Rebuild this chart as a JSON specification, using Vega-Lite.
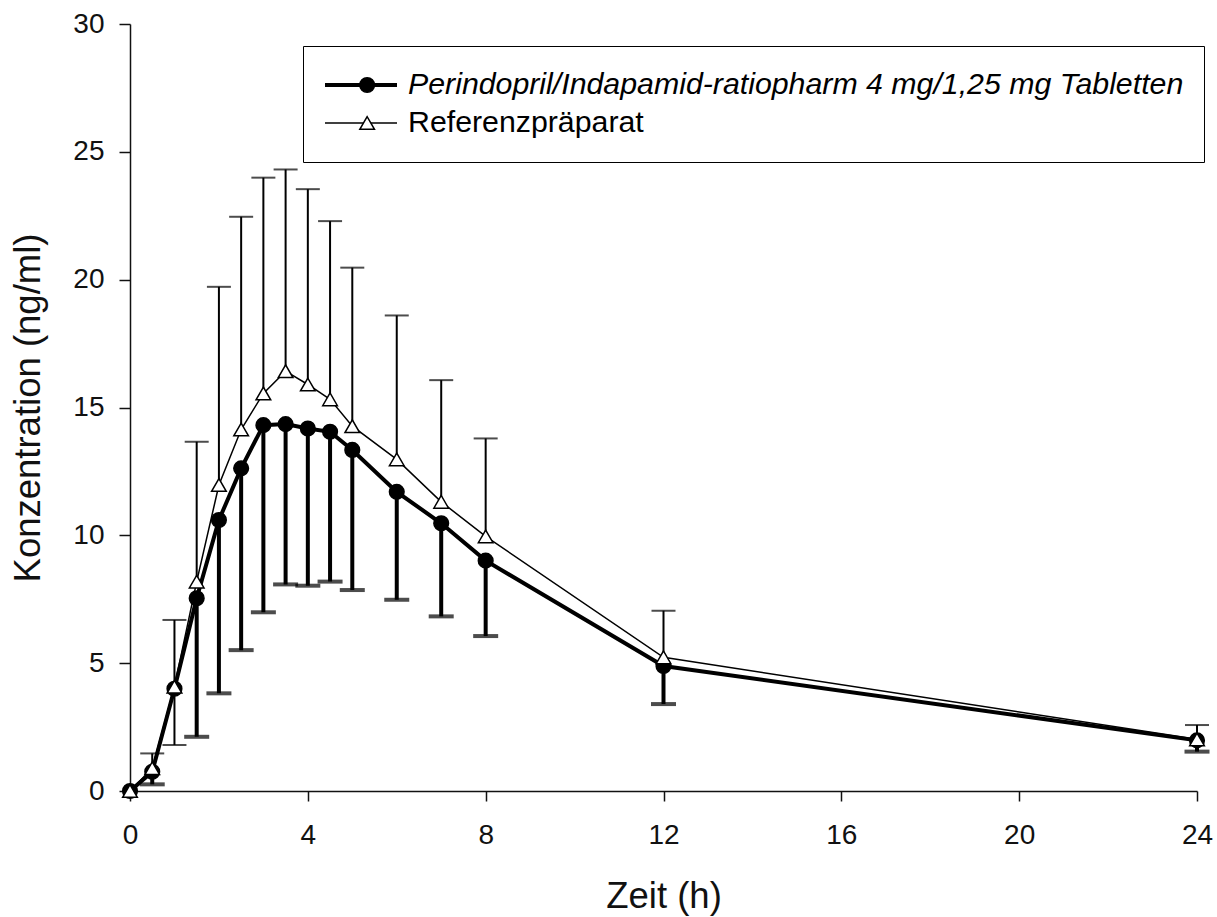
{
  "$schema": "https://vega.github.io/schema/vega-lite/v6.json",
  "autosize": {"type": "none"},
  "width": 1067,
  "height": 767,
  "padding": {"left": 130, "top": 24, "right": 20, "bottom": 126},
  "background": "white",
  "data": {
    "values": [
      {"t": 0, "series": "Perindopril/Indapamid-ratiopharm 4 mg/1,25 mg Tabletten", "c": 0, "lo": 0, "hi": 0},
      {"t": 0.5, "series": "Perindopril/Indapamid-ratiopharm 4 mg/1,25 mg Tabletten", "c": 0.75, "lo": 0.26, "hi": 0.75},
      {"t": 1, "series": "Perindopril/Indapamid-ratiopharm 4 mg/1,25 mg Tabletten", "c": 4.0, "lo": 4.0, "hi": 4.0},
      {"t": 1.5, "series": "Perindopril/Indapamid-ratiopharm 4 mg/1,25 mg Tabletten", "c": 7.54, "lo": 2.12, "hi": 7.54},
      {"t": 2, "series": "Perindopril/Indapamid-ratiopharm 4 mg/1,25 mg Tabletten", "c": 10.6, "lo": 3.82, "hi": 10.6},
      {"t": 2.5, "series": "Perindopril/Indapamid-ratiopharm 4 mg/1,25 mg Tabletten", "c": 12.62, "lo": 5.51, "hi": 12.62},
      {"t": 3, "series": "Perindopril/Indapamid-ratiopharm 4 mg/1,25 mg Tabletten", "c": 14.31, "lo": 6.99, "hi": 14.31},
      {"t": 3.5, "series": "Perindopril/Indapamid-ratiopharm 4 mg/1,25 mg Tabletten", "c": 14.35, "lo": 8.08, "hi": 14.35},
      {"t": 4, "series": "Perindopril/Indapamid-ratiopharm 4 mg/1,25 mg Tabletten", "c": 14.18, "lo": 8.03, "hi": 14.18},
      {"t": 4.5, "series": "Perindopril/Indapamid-ratiopharm 4 mg/1,25 mg Tabletten", "c": 14.05, "lo": 8.19, "hi": 14.05},
      {"t": 5, "series": "Perindopril/Indapamid-ratiopharm 4 mg/1,25 mg Tabletten", "c": 13.34, "lo": 7.86, "hi": 13.34},
      {"t": 6, "series": "Perindopril/Indapamid-ratiopharm 4 mg/1,25 mg Tabletten", "c": 11.7, "lo": 7.48, "hi": 11.7},
      {"t": 7, "series": "Perindopril/Indapamid-ratiopharm 4 mg/1,25 mg Tabletten", "c": 10.47, "lo": 6.83, "hi": 10.47},
      {"t": 8, "series": "Perindopril/Indapamid-ratiopharm 4 mg/1,25 mg Tabletten", "c": 9.01, "lo": 6.06, "hi": 9.01},
      {"t": 12, "series": "Perindopril/Indapamid-ratiopharm 4 mg/1,25 mg Tabletten", "c": 4.89, "lo": 3.4, "hi": 4.89},
      {"t": 24, "series": "Perindopril/Indapamid-ratiopharm 4 mg/1,25 mg Tabletten", "c": 1.98, "lo": 1.54, "hi": 1.98},
      {"t": 0, "series": "Referenzpräparat", "c": 0, "lo": 0, "hi": 0},
      {"t": 0.5, "series": "Referenzpräparat", "c": 0.89, "lo": 0.89, "hi": 1.47},
      {"t": 1, "series": "Referenzpräparat", "c": 4.08, "lo": 1.8, "hi": 6.69},
      {"t": 1.5, "series": "Referenzpräparat", "c": 8.19, "lo": 8.19, "hi": 13.66},
      {"t": 2, "series": "Referenzpräparat", "c": 11.97, "lo": 11.97, "hi": 19.72},
      {"t": 2.5, "series": "Referenzpräparat", "c": 14.14, "lo": 14.14, "hi": 22.46},
      {"t": 3, "series": "Referenzpräparat", "c": 15.55, "lo": 15.55, "hi": 23.99},
      {"t": 3.5, "series": "Referenzpräparat", "c": 16.42, "lo": 16.42, "hi": 24.31},
      {"t": 4, "series": "Referenzpräparat", "c": 15.9, "lo": 15.9, "hi": 23.54},
      {"t": 4.5, "series": "Referenzpräparat", "c": 15.32, "lo": 15.32, "hi": 22.29},
      {"t": 5, "series": "Referenzpräparat", "c": 14.27, "lo": 14.27, "hi": 20.47},
      {"t": 6, "series": "Referenzpräparat", "c": 12.97, "lo": 12.97, "hi": 18.6},
      {"t": 7, "series": "Referenzpräparat", "c": 11.31, "lo": 11.31, "hi": 16.07},
      {"t": 8, "series": "Referenzpräparat", "c": 9.96, "lo": 9.96, "hi": 13.79},
      {"t": 12, "series": "Referenzpräparat", "c": 5.23, "lo": 5.23, "hi": 7.05},
      {"t": 24, "series": "Referenzpräparat", "c": 2.02, "lo": 2.02, "hi": 2.58}
    ]
  },
  "encoding": {
    "x": {
      "field": "t",
      "type": "quantitative",
      "title": "Zeit (h)",
      "scale": {"domain": [0, 24], "nice": false},
      "axis": {"values": [0, 4, 8, 12, 16, 20, 24], "grid": false, "labelFlush": false, "tickSize": 10, "labelPadding": 20, "titlePadding": 29}
    }
  },
  "layer": [
    {
      "transform": [{"filter": "datum.series !== 'Referenzpräparat'"}],
      "mark": {"type": "rule", "color": "black", "strokeWidth": 4},
      "encoding": {
        "y": {"field": "lo", "type": "quantitative"},
        "y2": {"field": "hi"}
      }
    },
    {
      "transform": [{"filter": "datum.series !== 'Referenzpräparat' && datum.lo < datum.c"}],
      "mark": {"type": "tick", "orient": "horizontal", "color": "black", "size": 25, "thickness": 4},
      "encoding": {
        "y": {"field": "lo", "type": "quantitative"}
      }
    },
    {
      "transform": [{"filter": "datum.series === 'Referenzpräparat'"}],
      "mark": {"type": "rule", "color": "black", "strokeWidth": 2},
      "encoding": {
        "y": {"field": "lo", "type": "quantitative"},
        "y2": {"field": "hi"}
      }
    },
    {
      "transform": [{"filter": "datum.series === 'Referenzpräparat' && datum.hi > datum.c"}],
      "mark": {"type": "tick", "orient": "horizontal", "color": "black", "size": 24, "thickness": 2},
      "encoding": {
        "y": {"field": "hi", "type": "quantitative"}
      }
    },
    {
      "transform": [{"filter": "datum.series === 'Referenzpräparat' && datum.lo < datum.c"}],
      "mark": {"type": "tick", "orient": "horizontal", "color": "black", "size": 24, "thickness": 2},
      "encoding": {
        "y": {"field": "lo", "type": "quantitative"}
      }
    },
    {
      "mark": {"type": "line", "color": "black"},
      "encoding": {
        "y": {"field": "c", "type": "quantitative"},
        "detail": {"field": "series"},
        "strokeWidth": {
          "field": "series",
          "type": "ordinal",
          "scale": {
            "domain": ["Perindopril/Indapamid-ratiopharm 4 mg/1,25 mg Tabletten", "Referenzpräparat"],
            "range": [4, 1.5]
          },
          "legend": {
            "orient": "none",
            "legendX": 173,
            "legendY": 22,
            "title": null,
            "symbolType": "stroke",
            "symbolSize": 5184,
            "symbolStrokeColor": "black",
            "labelFont": "Liberation Sans",
            "labelFontSize": 30.3,
            "labelColor": "black",
            "labelOffset": 9,
            "labelLimit": 1000,
            "clipHeight": 38,
            "rowPadding": -3,
            "padding": 20,
            "strokeColor": "black",
            "encoding": {
              "labels": {
                "fontStyle": {"condition": {"test": "datum.label === 'Referenzpräparat'", "value": "normal"}, "value": "italic"}
              }
            }
          }
        }
      }
    },
    {
      "mark": {"type": "point", "filled": true, "stroke": "black", "strokeWidth": 1.5, "size": 215, "opacity": 1},
      "encoding": {
        "y": {
          "field": "c",
          "type": "quantitative",
          "title": "Konzentration (ng/ml)",
          "scale": {"domain": [0, 30], "nice": false},
          "axis": {"values": [0, 5, 10, 15, 20, 25, 30], "grid": false, "labelFlush": false, "tickSize": 11, "labelPadding": 15, "titlePadding": 25}
        },
        "shape": {
          "field": "series",
          "type": "nominal",
          "scale": {"range": ["circle", "triangle-up"]},
          "legend": {
            "orient": "none",
            "legendX": 173,
            "legendY": 22,
            "title": null,
            "symbolSize": 215,
            "symbolOffset": 29,
            "symbolStrokeColor": "black",
            "symbolStrokeWidth": 1.5,
            "labelExpr": "''",
            "labelFontSize": 30.3,
            "labelLimit": 10,
            "clipHeight": 38,
            "rowPadding": -3,
            "padding": 20,
            "strokeColor": null,
            "encoding": {
              "symbols": {
                "stroke": {"value": "black"},
                "strokeWidth": {"value": 1.5}
              }
            }
          }
        },
        "fill": {
          "field": "series",
          "type": "nominal",
          "scale": {"range": ["black", "white"]},
          "legend": null
        }
      }
    }
  ],
  "config": {
    "view": {"stroke": null},
    "font": "Liberation Sans",
    "axis": {
      "domainColor": "#111",
      "domainWidth": 1.5,
      "tickColor": "#111",
      "tickWidth": 1.5,
      "labelColor": "#111",
      "labelFont": "Liberation Sans",
      "labelFontSize": 28,
      "titleColor": "#111",
      "titleFont": "Liberation Sans",
      "titleFontSize": 36.5,
      "titleFontWeight": "normal"
    }
  }
}
